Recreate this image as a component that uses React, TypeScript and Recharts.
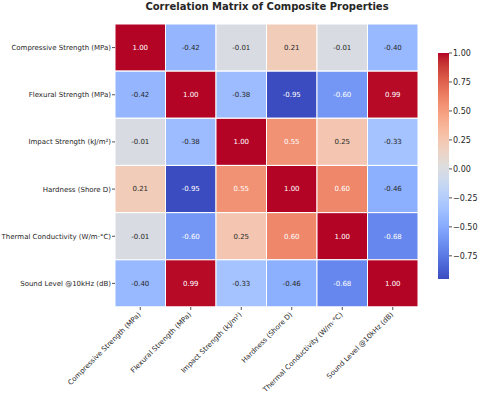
import React from "react";
import { BarChart, Bar, XAxis, YAxis, Cell, LabelList } from "recharts";

// Property names (rows and columns of the matrix)
const properties = [
  "Compressive Strength (MPa)",
  "Flexural Strength (MPa)",
  "Impact Strength (kJ/m²)",
  "Hardness (Shore D)",
  "Thermal Conductivity (W/m·°C)",
  "Sound Level @10kHz (dB)",
];

// Correlation values, one array per row
const compressive = [1.0, -0.42, -0.01, 0.21, -0.01, -0.4];
const flexural = [-0.42, 1.0, -0.38, -0.95, -0.6, 0.99];
const impact = [-0.01, -0.38, 1.0, 0.55, 0.25, -0.33];
const hardness = [0.21, -0.95, 0.55, 1.0, 0.6, -0.46];
const thermal = [-0.01, -0.6, 0.25, 0.6, 1.0, -0.68];
const sound = [-0.4, 0.99, -0.33, -0.46, -0.68, 1.0];

const matrix = [compressive, flexural, impact, hardness, thermal, sound];

const colorbarTicks = [-0.75, -0.5, -0.25, 0, 0.25, 0.5, 0.75, 1.0];

// matplotlib "coolwarm" (Moreland) sampled at 33 points
const coolwarm: number[][] = [
  [59, 76, 192], [68, 90, 204], [77, 104, 215], [87, 117, 225], [98, 130, 234],
  [108, 142, 241], [119, 154, 247], [130, 165, 251], [141, 176, 254], [152, 185, 255],
  [163, 194, 255], [174, 201, 253], [184, 208, 249], [194, 213, 244], [204, 217, 238],
  [213, 219, 230], [221, 221, 221], [229, 216, 209], [236, 211, 197], [241, 204, 185],
  [245, 196, 173], [247, 187, 160], [247, 177, 148], [247, 166, 135], [244, 154, 123],
  [241, 141, 111], [236, 127, 99], [229, 112, 88], [222, 96, 77], [213, 80, 66],
  [203, 62, 56], [192, 40, 47], [180, 4, 38],
];

const vmin = Math.min(...matrix.flat());
const vmax = Math.max(...matrix.flat());

function cmap(t: number): number[] {
  const p = Math.max(0, Math.min(1, t)) * (coolwarm.length - 1);
  const i = Math.min(Math.floor(p), coolwarm.length - 2);
  const f = p - i;
  return coolwarm[i].map((c, k) => Math.round(c + (coolwarm[i + 1][k] - c) * f));
}

const rgbStr = (c: number[]) => `rgb(${c[0]},${c[1]},${c[2]})`;
const colorFor = (v: number) => cmap((v - vmin) / (vmax - vmin));

function luminance(c: number[]) {
  const lin = c.map((x) => {
    const s = x / 255;
    return s <= 0.03928 ? s / 12.92 : Math.pow((s + 0.055) / 1.055, 2.4);
  });
  return 0.2126 * lin[0] + 0.7152 * lin[1] + 0.0722 * lin[2];
}

// each row: one stacked unit segment per column, plus the value it shows
const rows = properties.map((name, r) => {
  const row: Record<string, number | string> = { name };
  matrix[r].forEach((v, c) => {
    row[`c${c}`] = 1;
    row[`v${c}`] = v;
  });
  return row;
});

const FONT = "'DejaVu Sans', sans-serif";
const TEXT = "#262626";

const XTick = (props: any) => {
  const { x, y, payload } = props;
  const label = properties[Math.floor(payload.value)];
  return (
    <text
      x={x + 1}
      y={y + 3}
      textAnchor="end"
      fontSize={7}
      fill={TEXT}
      fontFamily={FONT}
      transform={`rotate(-45, ${x + 1}, ${y + 3})`}
    >
      {label}
    </text>
  );
};

const YTick = (props: any) => {
  const { x, y, payload } = props;
  return (
    <text x={x} y={y} dy="0.355em" textAnchor="end" fontSize={7} fill={TEXT} fontFamily={FONT}>
      {payload.value}
    </text>
  );
};

const cellLabel = (col: number) => (props: any) => {
  const { x, y, width, height, value } = props;
  const bg = colorFor(value);
  const fill = luminance(bg) > 0.408 ? TEXT : "#ffffff";
  return (
    <text
      x={x + width / 2}
      y={y + height / 2}
      dy="0.35em"
      textAnchor="middle"
      fontSize={7}
      fontFamily={FONT}
      fill={fill}
      key={`lbl-${col}-${props.index}`}
    >
      {value.toFixed(2)}
    </text>
  );
};

export default function App() {
  return (
    <div style={{ position: "absolute", left: 0, top: 0, width: 480, height: 395, background: "#fff", fontFamily: FONT }}>
      <div
        style={{
          position: "absolute",
          left: 116,
          width: 302,
          top: 1.5,
          textAlign: "center",
          fontSize: 10,
          lineHeight: "10px",
          fontWeight: "bold",
          color: TEXT,
          whiteSpace: "nowrap",
        }}
      >
        Correlation Matrix of Composite Properties
      </div>

      <div style={{ position: "absolute", left: 0, top: 0 }}>
        <BarChart
          width={480}
          height={395}
          data={rows}
          layout="vertical"
          barCategoryGap={0}
          barGap={0}
          margin={{ top: 24, right: 62, bottom: 0, left: 0 }}
        >
          <XAxis
            type="number"
            domain={[0, properties.length]}
            ticks={properties.map((_, i) => i + 0.5)}
            interval={0}
            height={88}
            axisLine={false}
            tickSize={3}
            tickMargin={2}
            tickLine={{ stroke: TEXT, strokeWidth: 0.8 }}
            tick={<XTick />}
          />
          <YAxis
            type="category"
            dataKey="name"
            width={115}
            axisLine={false}
            tickSize={3}
            tickMargin={1}
            tickLine={{ stroke: TEXT, strokeWidth: 0.8 }}
            tick={<YTick />}
            interval={0}
          />
          {properties.map((_, c) => (
            <Bar
              key={c}
              dataKey={`c${c}`}
              stackId="m"
              isAnimationActive={false}
              stroke="#ffffff"
              strokeWidth={1}
            >
              {matrix.map((row, r) => (
                <Cell key={r} fill={rgbStr(colorFor(row[c]))} />
              ))}
              <LabelList dataKey={`v${c}`} content={cellLabel(c)} />
            </Bar>
          ))}
        </BarChart>
      </div>

      {/* Colour bar */}
      <div style={{ position: "absolute", left: 438, top: 0 }}>
        <BarChart
          width={42}
          height={395}
          data={[{ k: "cb", range: [vmin, vmax] }]}
          barCategoryGap={0}
          margin={{ top: 53, right: 0, bottom: 116, left: 0 }}
        >
          <defs>
            <linearGradient id="cbGrad" x1="0" y1="0" x2="0" y2="1">
              {coolwarm
                .slice()
                .reverse()
                .map((c, i) => (
                  <stop key={i} offset={`${(i / (coolwarm.length - 1)) * 100}%`} stopColor={rgbStr(c)} />
                ))}
            </linearGradient>
          </defs>
          <XAxis dataKey="k" type="category" hide />
          <YAxis
            orientation="right"
            type="number"
            domain={[vmin, vmax]}
            ticks={colorbarTicks}
            interval={0}
            width={31}
            axisLine={false}
            tickSize={3}
            tickMargin={1}
            tickLine={{ stroke: TEXT, strokeWidth: 0.8 }}
            tick={{ fontSize: 8, fill: TEXT, fontFamily: FONT }}
            tickFormatter={(v: number) => (v < 0 ? `\u2212${Math.abs(v).toFixed(2)}` : v.toFixed(2))}
          />
          <Bar dataKey="range" fill="url(#cbGrad)" isAnimationActive={false} />
        </BarChart>
      </div>
    </div>
  );
}
